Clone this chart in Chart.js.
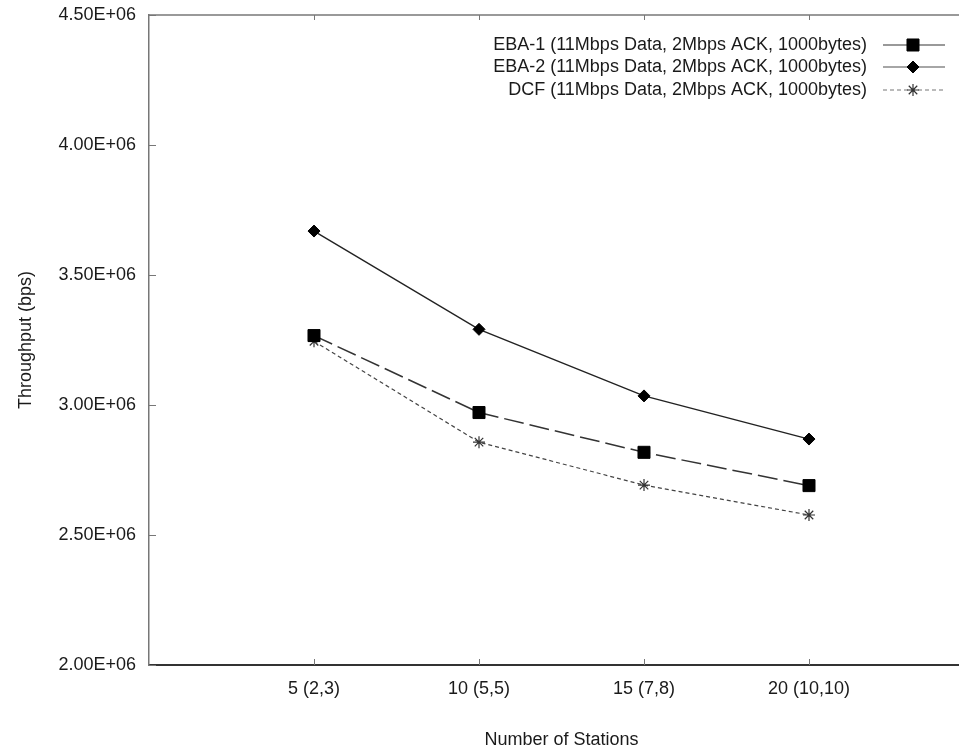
<!DOCTYPE html>
<html>
<head>
<meta charset="utf-8">
<script src="https://cdn.jsdelivr.net/npm/chart.js@4/dist/chart.umd.min.js"></script>
<style>
  html, body { margin: 0; padding: 0; background: #fff; overflow: hidden; }
  #wrap { width: 959px; height: 751px; overflow: hidden; }
</style>
</head>
<body>
<div id="wrap"><canvas id="chart" width="990" height="751"></canvas></div>
<script>
// Data
const stations = ["5 (2,3)", "10 (5,5)", "15 (7,8)", "20 (10,10)"];
const eba1 = [3.267e6, 2.971e6, 2.818e6, 2.690e6];
const eba2 = [3.669e6, 3.291e6, 3.035e6, 2.869e6];
const dcf  = [3.245e6, 2.857e6, 2.692e6, 2.577e6];
const seriesNames = [
    "EBA-1 (11Mbps Data, 2Mbps ACK, 1000bytes)",
    "EBA-2 (11Mbps Data, 2Mbps ACK, 1000bytes)",
    "DCF (11Mbps Data, 2Mbps ACK, 1000bytes)"
];

const FONT = "'Liberation Sans', Arial, Helvetica, sans-serif";
const TEXT = "#1a1a1a";

const pts = arr => arr.map((v, i) => ({ x: i + 1, y: v }));

// Inward tick marks + top frame line (gnuplot look)
const framePlugin = {
    id: "frame",
    afterDraw(chart) {
        const { ctx, chartArea: a, scales } = chart;
        ctx.save();
        ctx.strokeStyle = "#777";
        ctx.lineWidth = 1.5;
        ctx.beginPath();
        ctx.moveTo(a.left, a.top);
        ctx.lineTo(a.right, a.top);
        ctx.stroke();

        ctx.lineWidth = 1;
        scales.y.ticks.forEach(t => {
            const y = Math.round(scales.y.getPixelForValue(t.value)) + 0.5;
            ctx.beginPath();
            ctx.moveTo(a.left, y);
            ctx.lineTo(a.left + 7, y);
            ctx.stroke();
        });
        scales.x.ticks.forEach(t => {
            const x = Math.round(scales.x.getPixelForValue(t.value)) + 0.5;
            ctx.beginPath();
            ctx.moveTo(x, a.bottom);
            ctx.lineTo(x, a.bottom - 6);
            ctx.moveTo(x, a.top);
            ctx.lineTo(x, a.top + 5);
            ctx.stroke();
        });
        ctx.restore();
    }
};

// Legend: text right aligned, line sample with marker on the right
const legendPlugin = {
    id: "gpLegend",
    afterDraw(chart) {
        const { ctx } = chart;
        const textRight = 867, x0 = 883, x1 = 945, xm = 913;
        const rows = [45, 67, 90];
        ctx.save();
        chart.data.datasets.forEach((ds, i) => {
            const y = rows[i];
            ctx.font = "18px " + FONT;
            ctx.fillStyle = TEXT;
            ctx.textAlign = "right";
            ctx.textBaseline = "middle";
            ctx.fillText(ds.label, textRight, y);

            ctx.strokeStyle = ds.legendColor || ds.borderColor;
            ctx.lineWidth = ds.borderWidth;
            ctx.setLineDash(ds.legendDash || ds.borderDash || []);
            ctx.beginPath();
            ctx.moveTo(x0, y);
            ctx.lineTo(x1, y);
            ctx.stroke();
            ctx.setLineDash([]);

            ctx.fillStyle = ds.pointBackgroundColor;
            ctx.strokeStyle = ds.pointBorderColor;
            ctx.lineWidth = ds.pointBorderWidth;
            Chart.helpers.drawPoint(ctx, {
                pointStyle: ds.pointStyle,
                radius: ds.pointRadius,
                rotation: 0,
                borderWidth: ds.pointBorderWidth
            }, xm, y);
        });
        ctx.restore();
    }
};

new Chart(document.getElementById("chart"), {
    type: "line",
    data: {
        datasets: [
            {
                label: seriesNames[0],
                data: pts(eba1),
                borderColor: "#333",
                borderWidth: 1.5,
                borderDash: [20, 6],
                legendDash: [],
                legendColor: "#777",
                pointStyle: "rect",
                pointRadius: 8.5,
                pointBackgroundColor: "#000",
                pointBorderColor: "#000",
                pointBorderWidth: 1
            },
            {
                label: seriesNames[1],
                data: pts(eba2),
                borderColor: "#222",
                borderWidth: 1.4,
                legendColor: "#888",
                pointStyle: "rectRot",
                pointRadius: 6,
                pointBackgroundColor: "#000",
                pointBorderColor: "#000",
                pointBorderWidth: 1
            },
            {
                label: seriesNames[2],
                data: pts(dcf),
                borderColor: "#444",
                borderWidth: 1.2,
                borderDash: [4, 3],
                legendColor: "#777",
                pointStyle: "star",
                pointRadius: 6,
                pointBackgroundColor: "#333",
                pointBorderColor: "#333",
                pointBorderWidth: 1.2
            }
        ]
    },
    options: {
        responsive: false,
        devicePixelRatio: 1,
        animation: false,
        layout: { padding: { top: 15, right: 16, left: 0, bottom: 0 } },
        plugins: {
            legend: { display: false },
            tooltip: { enabled: false }
        },
        elements: { line: { tension: 0, fill: false } },
        scales: {
            x: {
                type: "linear",
                min: 0,
                max: 5,
                afterBuildTicks: s => { s.ticks = stations.map((_, i) => ({ value: i + 1 })); },
                afterFit: s => { s.height = 86; s.paddingLeft = 0; s.paddingRight = 0; },
                grid: { display: false, drawTicks: false },
                border: { display: true, color: "#333", width: 2 },
                ticks: {
                    autoSkip: false,
                    maxRotation: 0,
                    padding: 13,
                    color: TEXT,
                    font: { family: FONT, size: 18 },
                    callback: v => stations[v - 1] || ""
                },
                title: {
                    display: true,
                    text: "Number of Stations",
                    color: TEXT,
                    font: { family: FONT, size: 18 },
                    padding: { top: 0, bottom: 0 }
                }
            },
            y: {
                min: 2e6,
                max: 4.5e6,
                afterFit: s => { s.width = 149; s.paddingTop = 0; s.paddingBottom = 0; },
                grid: { display: false, drawTicks: false },
                border: { display: true, color: "#777", width: 1.5 },
                ticks: {
                    stepSize: 5e5,
                    padding: 13,
                    color: TEXT,
                    font: { family: FONT, size: 18 },
                    callback: v => (v / 1e6).toFixed(2) + "E+06"
                },
                title: {
                    display: true,
                    text: "Throughput (bps)",
                    color: TEXT,
                    font: { family: FONT, size: 18 },
                    padding: { top: 15, bottom: 0 }
                }
            }
        }
    },
    plugins: [framePlugin, legendPlugin]
});
</script>
</body>
</html>
